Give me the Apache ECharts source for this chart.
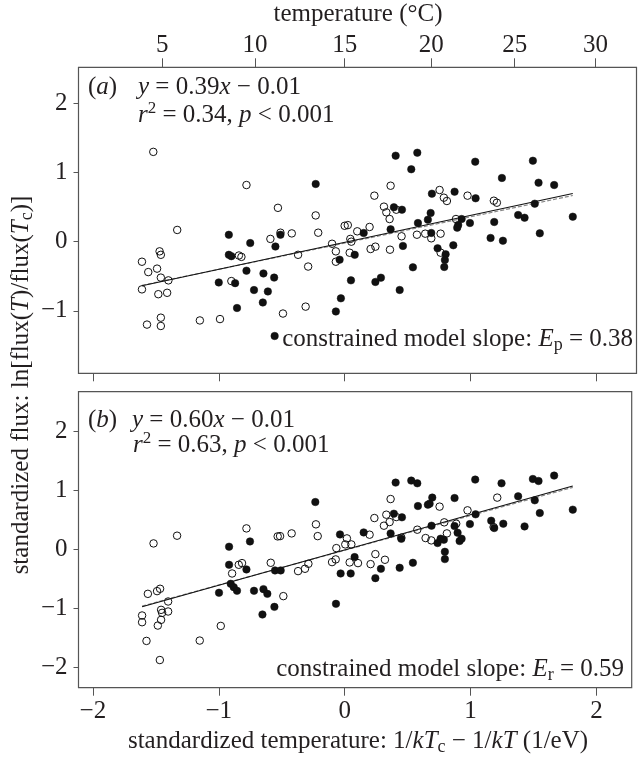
<!DOCTYPE html>
<html><head><meta charset="utf-8">
<script src="https://cdn.jsdelivr.net/npm/echarts@6/dist/echarts.min.js"></script>
<style>html,body{margin:0;padding:0;background:#fff}#c{width:638px;height:759px}</style>
</head><body><div id="c"></div>
<script>
// ---------- data ----------
const xTicks = [-2, -1, 0, 1, 2];
const yTicksA = [-1, 0, 1, 2];
const yTicksB = [-2, -1, 0, 1, 2];
const tempTicksC = [5, 10, 15, 20, 25, 30];
const boltzmannK = 8.617e-5;     // eV/K
const centralTempK = 288.15;     // Tc = 15 C

// panel (a): open circles
const aOpenX = [-1.52,-0.78,-0.53,-0.23,-1.33,0.00,0.025,0.10,-0.59,-0.51,-0.42,-0.21,-1.47,-1.46,-0.84,-0.82,-0.37,-0.10,-0.07,0.045,0.053,0.04,-0.07,-1.61,-1.56,-1.49,-1.46,-1.40,-1.61,-1.48,-1.41,-0.90,-0.29,-0.31,-0.49,-0.99,-1.15,-1.57,-1.46,-1.46,
  0.365,0.236,0.754,0.976,0.788,0.812,1.185,1.209,0.312,0.331,0.41,0.357,0.884,0.198,0.452,0.574,0.64,0.688,0.762,0.206,0.244,0.36,0.762];
const aOpenY = [1.30,0.82,0.49,0.38,0.17,0.23,0.24,0.15,0.04,0.13,0.12,0.13,-0.14,-0.19,-0.20,-0.22,-0.19,-0.03,-0.14,0.04,0.00,-0.16,-0.29,-0.29,-0.44,-0.39,-0.52,-0.56,-0.69,-0.76,-0.74,-0.57,-0.36,-0.94,-1.04,-1.12,-1.14,-1.20,-1.10,-1.22,
  0.81,0.666,0.748,0.666,0.637,0.589,0.593,0.564,0.507,0.425,0.463,0.328,0.328,0.213,0.078,0.101,0.116,0.049,0.116,-0.106,-0.072,-0.116,-0.159];
// panel (a): filled circles
const aFillX = [-0.23,-0.92,-0.51,-0.75,-0.55,-0.92,-0.90,0.08,-0.04,-0.78,-0.645,-0.56,-1.00,-0.87,0.05,-0.72,-0.61,-0.03,-0.65,-0.855,-0.07,-0.556,
  0.405,0.577,0.529,1.037,1.495,1.249,1.54,1.664,0.693,0.873,1.04,1.51,0.391,0.455,1.378,1.429,1.812,0.683,0.661,0.582,0.929,0.902,0.894,0.995,1.188,0.151,0.365,0.688,1.159,1.257,1.55,0.463,0.863,0.738,0.802,0.796,0.791,0.542,0.244,0.288,0.437];
const aFillY = [0.835,0.10,0.10,-0.02,-0.07,-0.19,-0.21,-0.19,-0.26,-0.42,-0.46,-0.52,-0.59,-0.60,-0.56,-0.70,-0.72,-0.82,-0.88,-0.96,-1.01,-1.365,
  1.245,1.288,1.048,1.158,1.172,0.922,0.854,0.82,0.695,0.724,0.628,0.55,0.498,0.463,0.386,0.347,0.362,0.415,0.318,0.27,0.328,0.242,0.203,0.27,0.285,0.126,0.179,0.126,0.054,0.014,0.121,-0.062,-0.052,-0.096,-0.182,-0.265,-0.366,-0.371,-0.583,-0.521,-0.699];

// panel (b): open circles
const bOpenX = [-0.228,-0.214,-0.78,-1.331,-1.518,-0.532,-0.513,-0.421,-0.066,0.005,0.053,0.018,-0.10,-0.071,0.04,0.106,-0.587,-0.37,-0.315,-0.288,-0.894,-0.841,-0.815,-0.487,-0.984,-1.151,-1.574,-1.468,-1.563,-1.49,-1.466,-1.402,-1.458,-1.45,-1.402,-1.458,-1.484,-1.609,-1.609,
  0.365,0.754,1.212,0.976,0.236,0.331,0.357,0.312,0.41,0.791,0.886,1.183,0.577,0.198,0.45,0.643,0.688,0.812,0.244,0.206,0.32];
const bOpenY = [0.426,0.226,0.357,0.233,0.102,0.221,0.226,0.272,0.022,0.085,0.085,0.187,-0.216,-0.17,-0.221,-0.233,-0.227,-0.369,-0.329,-0.244,-0.409,-0.261,-0.233,-0.794,-1.30,-1.549,-1.555,-1.88,-0.755,-0.709,-0.669,-0.885,-1.027,-1.078,-1.055,-1.197,-1.294,-1.123,-1.237,
  0.856,0.727,0.88,0.664,0.533,0.59,0.465,0.403,0.55,0.46,0.437,0.38,0.335,0.25,0.20,0.193,0.153,0.272,-0.08,-0.25,-0.176];
// panel (b): filled circles
const bFillX = [-0.233,-0.752,-0.918,-0.037,0.079,-0.032,0.048,-0.069,-0.553,-0.508,-0.918,-0.78,-0.905,-0.881,-0.855,-0.998,-0.72,-0.645,-0.614,-0.558,-0.653,
  0.405,0.529,0.577,1.037,1.246,1.495,1.54,1.664,0.696,0.675,0.661,0.873,0.582,1.378,1.51,1.04,1.55,1.812,0.391,0.455,0.69,0.873,0.995,1.164,1.188,1.26,1.429,0.365,0.151,0.45,0.738,0.762,0.788,0.897,0.913,0.929,0.796,0.796,0.288,0.244,0.437,0.542];
const bFillY = [0.805,0.136,0.046,0.255,-0.131,-0.409,-0.409,-0.925,-0.357,-0.357,-0.261,-0.34,-0.584,-0.641,-0.703,-0.737,-0.703,-0.675,-0.755,-0.976,-1.106,
  1.135,1.169,1.123,1.186,1.123,1.197,1.163,1.254,0.88,0.778,0.761,0.873,0.737,0.902,0.834,0.596,0.618,0.676,0.607,0.545,0.403,0.397,0.431,0.488,0.363,0.437,0.391,0.272,0.289,0.18,0.108,0.182,0.165,0.284,0.142,0.182,-0.04,-0.165,-0.329,-0.488,-0.312,-0.227];

// fitted lines: [panel a, panel b]
const fitSlopes = [0.39, 0.60];
const fitIntercepts = [-0.01, -0.01];
const constrainedSlopes = [0.38, 0.59];
const constrainedIntercepts = [-0.02, -0.015];

// ---------- helpers ----------
const FONT = "'Liberation Serif','DejaVu Serif','Times New Roman',serif";
const INK = '#231f20';
const FRAME = '#555';
const FS = 25;
const zip = (xs, ys) => xs.map((x, i) => [x, ys[i]]);
const minus = v => (v < 0 ? '\u2212' : '') + Math.abs(v);
const toStdTemp = c => (1 / centralTempK - 1 / (c + 273.15)) / boltzmannK;
const fromStdTemp = v => Math.round(1 / (1 / centralTempK - v * boltzmannK) - 273.15);
const tempTickPos = tempTicksC.map(toStdTemp);

function lineData(xsA, xsB, slope, icpt) {
  const xs = xsA.concat(xsB);
  const lo = Math.min(...xs), hi = Math.max(...xs);
  return [[lo, slope * lo + icpt], [hi, slope * hi + icpt]];
}

const rich = {
  n: {fontSize: FS, fontFamily: FONT, color: INK, lineHeight: 30},
  i: {fontSize: FS, fontFamily: FONT, color: INK, lineHeight: 30, fontStyle: 'italic'},
  sub: {fontSize: 18, fontFamily: FONT, color: INK, lineHeight: 15, verticalAlign: 'bottom'},
  sup: {fontSize: 17, fontFamily: FONT, color: INK, lineHeight: 17, verticalAlign: 'top'}
};
function txt(text, x, y, align, rot) {
  return {type: 'text', x: x, y: y, rotation: rot || 0, silent: true,
    style: {text: text, rich: rich, align: align, verticalAlign: 'middle', font: FS + 'px ' + FONT, fill: INK}};
}

const GL = 78.5;
const rightA = 1.5, rightB = 6.3;
const xMin = -2.114, xMaxA = 2.318, xMaxB = 2.28;

function xAxisBase(grid, max) {
  return {type: 'value', gridIndex: grid, min: xMin, max: max,
    axisLine: {show: false, onZero: false}, splitLine: {show: false},
    axisTick: {show: true, inside: false, length: 8, lineStyle: {color: FRAME}, customValues: xTicks},
    axisLabel: {show: false}};
}
function yAxisBase(grid, min, max, ticks) {
  return {type: 'value', gridIndex: grid, min: min, max: max,
    axisLine: {show: false, onZero: false}, splitLine: {show: false},
    axisTick: {show: true, inside: false, length: 5, lineStyle: {color: FRAME}, customValues: ticks},
    axisLabel: {show: true, customValues: ticks, margin: 11, fontSize: FS, fontFamily: FONT, color: INK, formatter: minus}};
}

const xa = xAxisBase(0, xMaxA);
const xTop = {type: 'value', gridIndex: 0, position: 'top', min: xMin, max: xMaxA,
  axisLine: {show: false, onZero: false}, splitLine: {show: false},
  axisTick: {show: true, inside: false, length: 9, lineStyle: {color: FRAME}, customValues: tempTickPos},
  axisLabel: {show: true, customValues: tempTickPos, margin: 9, fontSize: FS, fontFamily: FONT, color: INK, formatter: fromStdTemp}};
const xb = xAxisBase(1, xMaxB);
xb.axisLabel = {show: true, customValues: xTicks, margin: 11, fontSize: FS, fontFamily: FONT, color: INK, formatter: minus};

function pts(xi, yi, xs, ys, filled) {
  return {type: 'scatter', xAxisIndex: xi, yAxisIndex: yi, data: zip(xs, ys), symbol: 'circle', symbolSize: 7.5,
    itemStyle: filled ? {color: '#111', borderColor: '#111', borderWidth: 0.5, opacity: 1}
                      : {color: 'rgba(255,255,255,0)', borderColor: '#111', borderWidth: 1, opacity: 1},
    silent: true, z: 3};
}
function fit(xi, yi, data, dashed) {
  return {type: 'line', xAxisIndex: xi, yAxisIndex: yi, data: data, symbol: 'none', silent: true, z: 2,
    lineStyle: dashed ? {color: '#888', width: 1.2, type: [4, 2]} : {color: '#111', width: 1.1}};
}

const option = {
  animation: false,
  backgroundColor: '#fff',
  grid: [
    {left: GL, right: rightA, top: 67.3, height: 306, show: true, borderColor: FRAME, borderWidth: 1.2, backgroundColor: 'transparent'},
    {left: GL, right: rightB, top: 391.7, height: 296, show: true, borderColor: FRAME, borderWidth: 1.2, backgroundColor: 'transparent'}
  ],
  xAxis: [xa, xTop, xb],
  yAxis: [yAxisBase(0, -1.905, 2.524, yTicksA), yAxisBase(1, -2.35, 2.68, yTicksB)],
  series: [
    fit(0, 0, lineData(aOpenX, aFillX, constrainedSlopes[0], constrainedIntercepts[0]), true),
    fit(0, 0, lineData(aOpenX, aFillX, fitSlopes[0], fitIntercepts[0]), false),
    pts(0, 0, aOpenX, aOpenY, false),
    pts(0, 0, aFillX, aFillY, true),
    fit(2, 1, lineData(bOpenX, bFillX, constrainedSlopes[1], constrainedIntercepts[1]), true),
    fit(2, 1, lineData(bOpenX, bFillX, fitSlopes[1], fitIntercepts[1]), false),
    pts(2, 1, bOpenX, bOpenY, false),
    pts(2, 1, bFillX, bFillY, true)
  ],
  graphic: [
    txt('{n|temperature (°C)}', 358, 14, 'center'),
    txt('{n|(}{i|a}{n|)}', 88, 87, 'left'),
    txt('{i|y}{n| = 0.39}{i|x}{n| \u2212 0.01}', 138, 87, 'left'),
    txt('{i|r}{sup|2}{n| = 0.34, }{i|p}{n| < 0.001}', 138, 115, 'left'),
    txt('{n|constrained model slope: }{i|E}{sub|p}{n| = 0.38}', 633, 339, 'right'),
    txt('{n|(}{i|b}{n|)}', 88, 420, 'left'),
    txt('{i|y}{n| = 0.60}{i|x}{n| \u2212 0.01}', 132, 420, 'left'),
    txt('{i|r}{sup|2}{n| = 0.63, }{i|p}{n| < 0.001}', 133, 445, 'left'),
    txt('{n|constrained model slope: }{i|E}{sub|r}{n| = 0.59}', 624, 669, 'right'),
    txt('{n|standardized temperature: 1/}{i|kT}{sub|c}{n| \u2212 1/}{i|kT}{n| (1/eV)}', 358, 741, 'center'),
    txt('{n|standardized flux: ln[flux(}{i|T}{n|)/flux(}{i|T}{sub|c}{n|)]}', 21, 385, 'center', Math.PI / 2)
  ]
};
echarts.init(document.getElementById('c'), null, {renderer: 'canvas'}).setOption(option);
</script>
</body></html>
